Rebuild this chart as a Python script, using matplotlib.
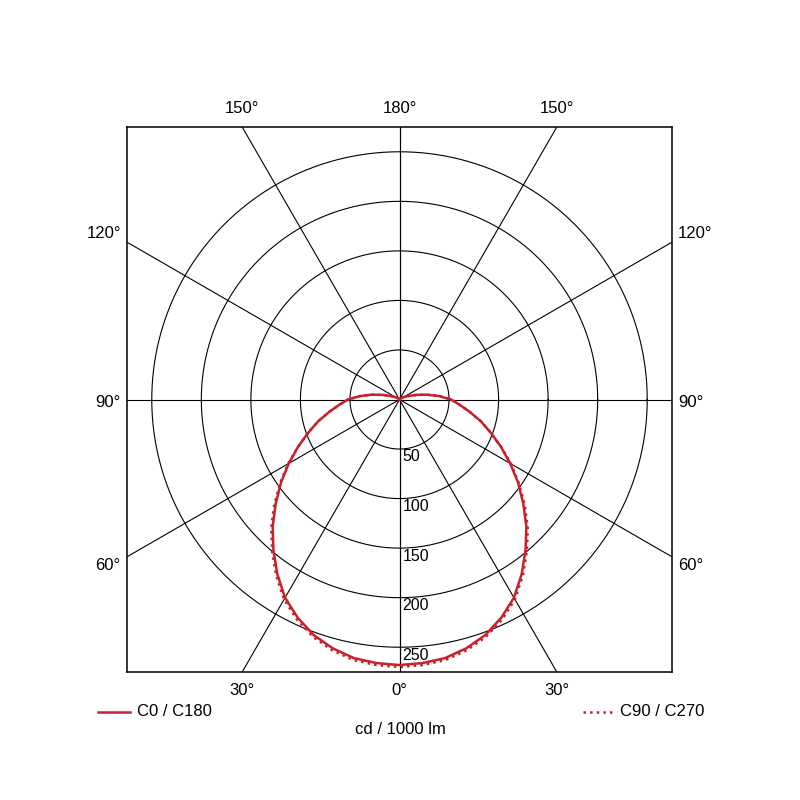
import numpy as np
import matplotlib.pyplot as plt
from matplotlib.lines import Line2D

plt.rcParams['font.family'] = ['Liberation Sans', 'DejaVu Sans']

# luminous intensity, cd / 1000 lm, angle measured from nadir
angles = [0, 5, 10, 15, 20, 25, 30, 35, 40, 45, 50, 55, 60, 65, 70, 75, 80, 85,
          90, 95, 100, 105, 110, 115, 120, 130, 150, 180]
c0_c180 = [268, 267, 265, 260, 253, 243, 231, 215, 198, 181, 163, 146, 129, 113, 98, 85, 72, 61,
           52, 40, 28, 18, 11, 7, 4, 2, 0.5, 0]
c90_c270 = [270, 269, 267, 262, 255, 245, 233, 217, 200, 183, 165, 147, 130, 113, 98, 85, 72, 61,
            52, 40, 28, 18, 11, 7, 4, 2, 0.5, 0]

rings = [50, 100, 150, 200, 250]
spokes = [0, 30, 60, 90, 120, 150, 180]
red = '#c8202c'

fig = plt.figure(figsize=(8, 8), dpi=100)
ax = fig.add_axes([127 / 800, 128 / 800, 545 / 800, 545 / 800])
lim = 275
ax.set_xlim(-lim, lim)
ax.set_ylim(-lim, lim)
ax.set_aspect('equal')
ax.set_xticks([])
ax.set_yticks([])
for s in ax.spines.values():
    s.set_linewidth(1.1)

t = np.linspace(0, 2 * np.pi, 400)
for r in rings:
    ax.plot(r * np.cos(t), r * np.sin(t), color='black', lw=0.8)
    ax.text(3, -r - 8, str(r), fontsize=11.5, va='center', ha='left')

for a in spokes:
    rad = np.radians(a)
    for sgn in (-1, 1):
        ax.plot([0, sgn * 500 * np.sin(rad)], [0, -500 * np.cos(rad)], color='black', lw=0.8)

# angle labels round the box
for a in spokes:
    rad = np.radians(a)
    for sgn in ((1,) if a in (0, 180) else (-1, 1)):
        dx, dy = sgn * np.sin(rad), -np.cos(rad)
        k = lim / max(abs(dx), abs(dy))
        x, y = dx * k, dy * k
        if abs(dy) >= abs(dx):
            y += 19 * np.sign(dy)
        else:
            x += (23 if a == 120 else 19) * np.sign(dx)
            y += 9 * np.sign(dy) if a != 90 else -3
        ax.text(x, y, f'{a}°', fontsize=12, ha='center', va='center', clip_on=False)

th = np.radians(np.array(angles))
for vals, ls in ((c0_c180, '-'), (c90_c270, ':')):
    v = np.array(vals)
    xs = np.concatenate([-v[::-1] * np.sin(th[::-1]), v * np.sin(th)])
    ys = np.concatenate([-v[::-1] * np.cos(th[::-1]), -v * np.cos(th)])
    ax.plot(xs, ys, color=red, lw=1.8, ls=ls)

# legend and unit
ly = 1 - 712 / 800
fig.add_artist(Line2D([98 / 800, 130 / 800], [ly, ly], color=red, lw=1.8, transform=fig.transFigure))
fig.text(137 / 800, ly, 'C0 / C180', fontsize=12, va='center')
fig.add_artist(Line2D([583 / 800, 613 / 800], [ly, ly], color=red, lw=1.8, ls=':', transform=fig.transFigure))
fig.text(704 / 800, ly, 'C90 / C270', fontsize=12, va='center', ha='right')
fig.text(0.5, 1 - 730 / 800, 'cd / 1000 lm', fontsize=12, va='center', ha='center')

fig.savefig('out.png', dpi=100, facecolor='white')
